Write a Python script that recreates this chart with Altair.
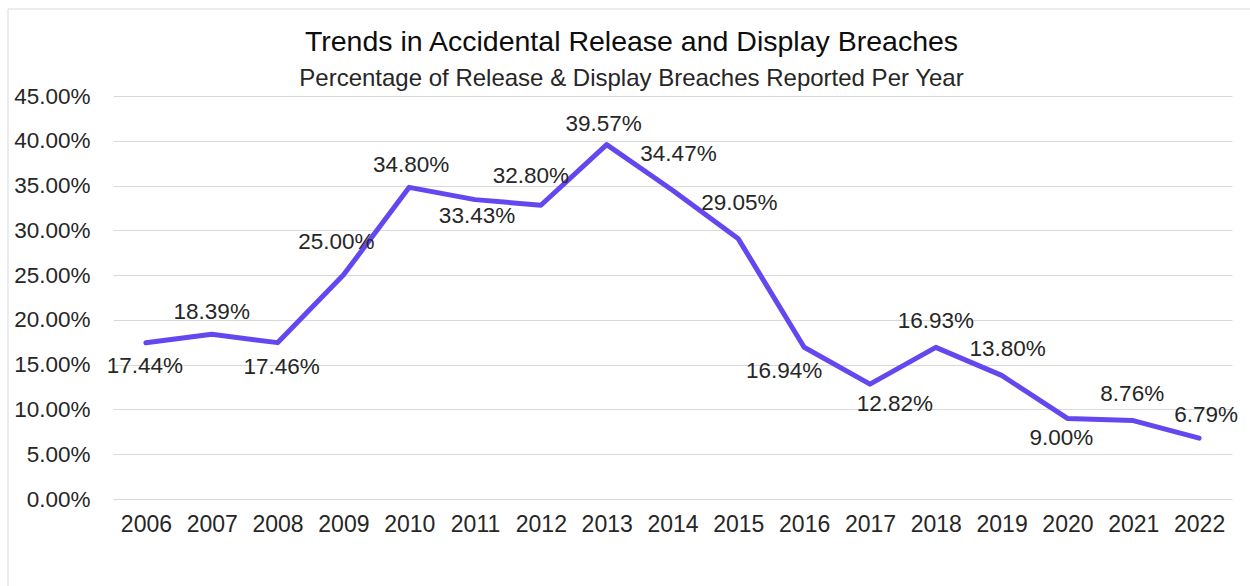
import altair as alt
import pandas as pd

# ---- data ----
years = [str(y) for y in range(2006, 2023)]
values = [17.44, 18.39, 17.46, 25.00, 34.80, 33.43, 32.80, 39.57, 34.47,
          29.05, 16.94, 12.82, 16.93, 13.80, 9.00, 8.76, 6.79]
y_ticks = [0, 5, 10, 15, 20, 25, 30, 35, 40, 45]

# ---- label placement (layout only, in pixels) ----
label_nudges = [(-1, 23), (0, -22), (4, 24), (-7, -33), (2, -22), (2, 16),
                (-10, -29), (-3, -21), (6, -36), (1, -36), (-20, 24),
                (25, 20), (0, -26), (6, -26), (-6, 20), (-1, -27), (7, -23)]

df = pd.DataFrame({
    "year": years,
    "share": [v / 100 for v in values],
    "label": [f"{v:.2f}%" for v in values],
})

FONT = "Liberation Sans"
LINE = "#6547F0"
TEXT = "#262626"

x_enc = alt.X("year:O", title=None, sort=years,
              axis=alt.Axis(labelAngle=0, labelFontSize=23, labelColor=TEXT,
                            labelFont=FONT, labelPadding=14, ticks=False,
                            domain=False, grid=False))
y_enc = alt.Y("share:Q", title=None,
              scale=alt.Scale(domain=[0, 0.45], nice=False),
              axis=alt.Axis(values=[t / 100 for t in y_ticks], format=".2%",
                            labelFontSize=22.5, labelColor=TEXT, labelFont=FONT,
                            labelPadding=23, ticks=False, domain=False,
                            gridColor="#d9d9d9", gridWidth=1))

base = alt.Chart(df)

line = base.mark_line(color=LINE, strokeWidth=5, strokeJoin="round",
                      strokeCap="round").encode(x=x_enc, y=y_enc)

label_layers = []
for yr, (dx, dy) in zip(years, label_nudges):
    label_layers.append(
        base.transform_filter(alt.datum.year == yr)
        .mark_text(dx=dx, dy=dy, fontSize=22.5, font=FONT, color=TEXT,
                   align="center", baseline="middle")
        .encode(x=alt.X("year:O", sort=years),
                y=alt.Y("share:Q"), text="label:N")
    )

frame = alt.Chart(pd.DataFrame({"k": [0]})).mark_rect(
    fill=None, stroke="#d9d9d9", strokeWidth=1
).encode(x=alt.value(-105), x2=alt.value(1200), y=alt.value(-87),
         y2=alt.value(600))

chart = alt.layer(frame, line, *label_layers).properties(
    width=1119, height=403,
    title=alt.TitleParams(
        text="Trends in Accidental Release and Display Breaches",
        subtitle="Percentage of Release & Display Breaches Reported Per Year",
        font=FONT, fontSize=28.5, fontWeight="normal", color="#0d0d0d",
        subtitleFont=FONT, subtitleFontSize=24, subtitleColor="#262626",
        subtitlePadding=10, anchor="middle", dx=-41, offset=-82, frame="group",
    ),
    autosize="none",
    background="white",
    padding={"left": 113, "top": 96, "right": 18, "bottom": 87},
).configure_view(stroke=None)

chart.save("out.html", embed_options={"renderer": "svg", "actions": False})
